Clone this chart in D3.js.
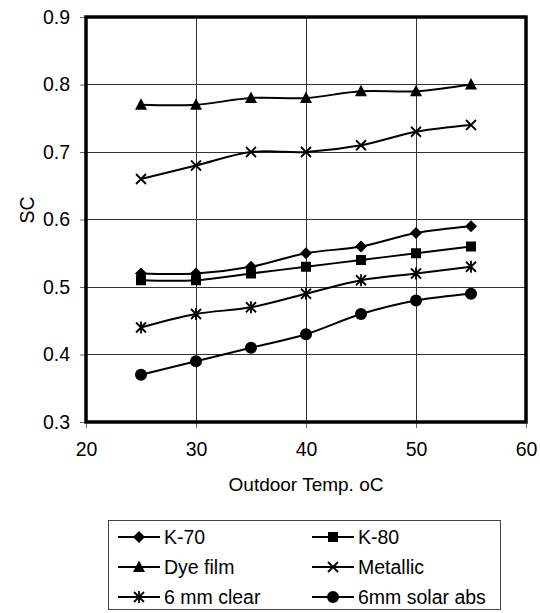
<!DOCTYPE html>
<html><head><meta charset="utf-8">
<script src="https://cdn.jsdelivr.net/npm/d3@7"></script>
<style>body{margin:0;background:#fff;}svg{display:block;font-family:"Liberation Sans",Arial,sans-serif;}</style>
</head><body><svg id="c" width="540" height="613"></svg>
<script>
const temps = [25, 30, 35, 40, 45, 50, 55];
const k70 = [0.52, 0.52, 0.53, 0.55, 0.56, 0.58, 0.59];
const k80 = [0.51, 0.51, 0.52, 0.53, 0.54, 0.55, 0.56];
const dyeFilm = [0.77, 0.77, 0.78, 0.78, 0.79, 0.79, 0.80];
const metallic = [0.66, 0.68, 0.70, 0.70, 0.71, 0.73, 0.74];
const clear6mm = [0.44, 0.46, 0.47, 0.49, 0.51, 0.52, 0.53];
const solarAbs6mm = [0.37, 0.39, 0.41, 0.43, 0.46, 0.48, 0.49];
const seriesNames = ["K-70", "K-80", "Dye film", "Metallic", "6 mm clear", "6mm solar abs"];
const seriesMarkers = ["diamond", "square", "triangle", "x", "star", "circle"];
const xTicks = [20, 30, 40, 50, 60];
const yTicks = [0.3, 0.4, 0.5, 0.6, 0.7, 0.8, 0.9];

const series = [k70, k80, dyeFilm, metallic, clear6mm, solarAbs6mm].map((v, i) => ({name: seriesNames[i], marker: seriesMarkers[i], values: v}));

const svg = d3.select("#c");
const L = 86, R = 526, T = 17, B = 422;
const x = d3.scaleLinear().domain([20, 60]).range([L, R]);
const y = d3.scaleLinear().domain([0.3, 0.9]).range([B, T]);
const FS = 19.5;

// gridlines
svg.append("g").selectAll("line").data(xTicks.slice(1, -1)).join("line")
  .attr("x1", d => x(d)).attr("x2", d => x(d)).attr("y1", T).attr("y2", B)
  .attr("stroke", "#333").attr("stroke-width", 1).attr("shape-rendering", "crispEdges");
svg.append("g").selectAll("line").data(yTicks.slice(1, -1)).join("line")
  .attr("y1", d => y(d)).attr("y2", d => y(d)).attr("x1", L).attr("x2", R)
  .attr("stroke", "#333").attr("stroke-width", 1).attr("shape-rendering", "crispEdges");

// axes
const xa = svg.append("g").attr("transform", `translate(0,${B})`)
  .call(d3.axisBottom(x).tickValues(xTicks).tickSize(6).tickPadding(14).tickFormat(d3.format("d")));
const ya = svg.append("g").attr("transform", `translate(${L},0)`)
  .call(d3.axisLeft(y).tickValues(yTicks).tickSize(6).tickPadding(10).tickFormat(d3.format(".1f")));
[xa, ya].forEach(g => {
  g.select(".domain").remove();
  g.selectAll("line").attr("stroke", "#666");
  g.selectAll("text").attr("font-size", FS).attr("fill", "#000").attr("font-family", "Liberation Sans, Arial, sans-serif");
});

// frame
svg.append("rect").attr("x", L).attr("y", T).attr("width", R - L).attr("height", B - T)
  .attr("fill", "none").attr("stroke", "#000").attr("stroke-width", 3.5);

// axis titles
svg.append("text").attr("x", (L + R) / 2).attr("y", 491).attr("text-anchor", "middle")
  .attr("font-size", 19).text("Outdoor Temp. oC");
svg.append("text").attr("transform", "translate(34,210) rotate(-90)").attr("text-anchor", "middle")
  .attr("font-size", FS).text("SC");

function drawMarker(g, type, cx, cy) {
  const s = 6;
  if (type === "diamond") g.append("path").attr("d", `M${cx},${cy - s}L${cx + s},${cy}L${cx},${cy + s}L${cx - s},${cy}Z`).attr("fill", "#000");
  else if (type === "square") g.append("rect").attr("x", cx - 5).attr("y", cy - 5).attr("width", 10).attr("height", 10).attr("fill", "#000");
  else if (type === "triangle") g.append("path").attr("d", `M${cx},${cy - 6.5}L${cx + 6},${cy + 5}L${cx - 6},${cy + 5}Z`).attr("fill", "#000");
  else if (type === "circle") g.append("circle").attr("cx", cx).attr("cy", cy).attr("r", 6).attr("fill", "#000");
  else if (type === "x") g.append("path").attr("d", `M${cx - 5},${cy - 5}L${cx + 5},${cy + 5}M${cx - 5},${cy + 5}L${cx + 5},${cy - 5}`).attr("stroke", "#000").attr("stroke-width", 1.8);
  else if (type === "star") g.append("path").attr("d", `M${cx - 5},${cy - 5}L${cx + 5},${cy + 5}M${cx - 5},${cy + 5}L${cx + 5},${cy - 5}M${cx},${cy - 6}L${cx},${cy + 6}`).attr("stroke", "#000").attr("stroke-width", 1.8);
}

const line = d3.line().x(d => x(d[0])).y(d => y(d[1])).curve(d3.curveCatmullRom.alpha(0.5));
series.forEach(s => {
  const pts = temps.map((t, i) => [t, s.values[i]]);
  svg.append("path").attr("d", line(pts)).attr("fill", "none").attr("stroke", "#000").attr("stroke-width", 2);
  const g = svg.append("g");
  pts.forEach(p => drawMarker(g, s.marker, x(p[0]), y(p[1])));
});

// legend
const lg = svg.append("g");
lg.append("rect").attr("x", 108.5).attr("y", 520.5).attr("width", 392).attr("height", 89)
  .attr("fill", "#fff").attr("stroke", "#444").attr("stroke-width", 1);
const colX = [139, 333];
const rowY = [537, 567, 597];
series.forEach((s, i) => {
  const cx = colX[i % 2], cy = rowY[Math.floor(i / 2)];
  lg.append("line").attr("x1", cx - 21).attr("x2", cx + 21).attr("y1", cy).attr("y2", cy).attr("stroke", "#000").attr("stroke-width", 2);
  drawMarker(lg, s.marker, cx, cy);
  lg.append("text").attr("x", cx + 25).attr("y", cy).attr("dy", "0.35em").attr("font-size", FS).text(s.name);
});
</script></body></html>
